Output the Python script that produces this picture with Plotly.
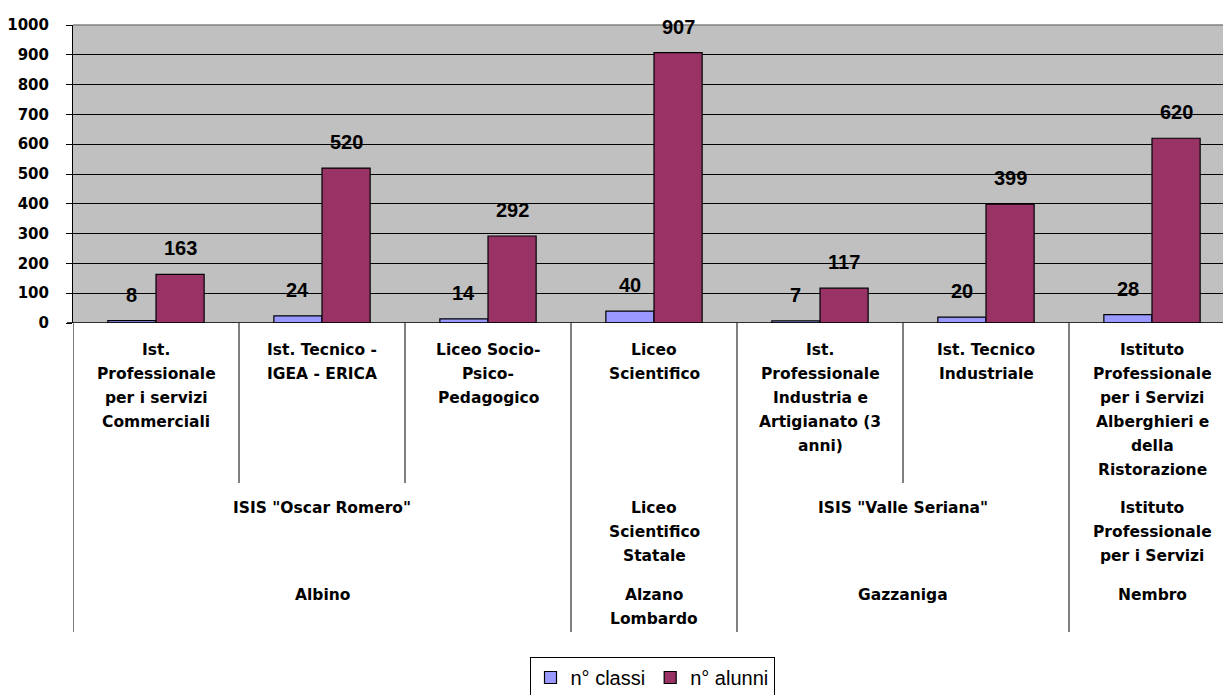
import plotly.graph_objects as go

# ---------------- data ----------------
schools = ["Ist. Professionale per i servizi Commerciali",
           "Ist. Tecnico - IGEA - ERICA",
           "Liceo Socio-Psico-Pedagogico",
           "Liceo Scientifico",
           "Ist. Professionale Industria e Artigianato (3 anni)",
           "Ist. Tecnico Industriale",
           "Istituto Professionale per i Servizi Alberghieri e della Ristorazione"]
school_lines = [["Ist.", "Professionale", "per i servizi", "Commerciali"],
                ["Ist. Tecnico -", "IGEA - ERICA"],
                ["Liceo Socio-", "Psico-", "Pedagogico"],
                ["Liceo", "Scientifico"],
                ["Ist.", "Professionale", "Industria e", "Artigianato (3", "anni)"],
                ["Ist. Tecnico", "Industriale"],
                ["Istituto", "Professionale", "per i Servizi", "Alberghieri e", "della", "Ristorazione"]]
institutes = [["ISIS \"Oscar Romero\""], ["Liceo", "Scientifico", "Statale"],
              ["ISIS \"Valle Seriana\""], ["Istituto", "Professionale", "per i Servizi"]]
institute_span = [(0, 2), (3, 3), (4, 5), (6, 6)]
towns = [["Albino"], ["Alzano", "Lombardo"], ["Gazzaniga"], ["Nembro"]]
town_span = [(0, 2), (3, 3), (4, 5), (6, 6)]

classi = [8, 24, 14, 40, 7, 20, 28]
alunni = [163, 520, 292, 907, 117, 399, 620]
series_names = ["n° classi", "n° alunni"]
yticks = [0, 100, 200, 300, 400, 500, 600, 700, 800, 900, 1000]

# ---------------- layout constants ----------------
W, H = 1223, 695
ML, MT, MB = 73, 25, 372
plot_h = H - MT - MB            # 298
cat_px = 166
x_span = (W - ML) / cat_px
BARGAP = 0.42
bar_w = (1 - BARGAP) / 2

x = list(range(len(schools)))
fig = go.Figure()
fig.add_trace(go.Bar(x=x, y=classi, name=series_names[0],
                     marker=dict(color="#9999FF", line=dict(color="#000000", width=1.2))))
fig.add_trace(go.Bar(x=x, y=alunni, name=series_names[1],
                     marker=dict(color="#993366", line=dict(color="#000000", width=1.2))))

ann = []
label_font = dict(family="Liberation Sans, Arial", size=20, color="#000000", weight="bold")
for i in x:
    for vals, off in ((classi, -bar_w / 2), (alunni, bar_w / 2)):
        ann.append(dict(x=i + off, y=vals[i], xref="x", yref="y", text=str(vals[i]),
                        showarrow=False, yanchor="middle", yshift=26, font=label_font))

cat_font = dict(family="DejaVu Sans", size=15.5, color="#000000", weight="bold")
LINE = 24

def add_lines(xc, lines, top_px):
    for k, t in enumerate(lines):
        ypix = top_px + k * LINE
        ann.append(dict(x=xc, y=0, xref="x", yref="paper", text=t, showarrow=False,
                        yanchor="middle", yshift=-(ypix - (MT + plot_h)), font=cat_font))

for i, lines in enumerate(school_lines):
    add_lines(i, lines, 350)
for (a, b), lines in zip(institute_span, institutes):
    add_lines((a + b) / 2, lines, 508)
for (a, b), lines in zip(town_span, towns):
    add_lines((a + b) / 2, lines, 595)

# separators
short_y = -(483 - (MT + plot_h)) / plot_h
long_y = -(632 - (MT + plot_h)) / plot_h
shapes = []
group_bounds = {-0.5}
for a, b in town_span:
    group_bounds.add(b + 0.5)
for i in range(len(schools)):
    xb = i - 0.5
    y1 = long_y if xb in group_bounds else short_y
    shapes.append(dict(type="line", xref="x", yref="paper", x0=xb, x1=xb, y0=0, y1=y1,
                       line=dict(color="#000000", width=1)))
# top border of plot area
shapes.append(dict(type="line", xref="paper", yref="paper", x0=0, x1=1, y0=1, y1=1,
                   line=dict(color="#808080", width=1.5)))
shapes.append(dict(type="line", xref="paper", yref="y", x0=-6 / (W - ML), x1=1, y0=0, y1=0,
                   line=dict(color="#000000", width=1.5)))

fig.update_layout(
    width=W, height=H,
    margin=dict(l=ML, r=0, t=MT, b=MB, autoexpand=False),
    paper_bgcolor="#FFFFFF", plot_bgcolor="#C0C0C0",
    barmode="group", bargap=BARGAP, bargroupgap=0,
    showlegend=True,
    legend=dict(orientation="h", x=(652 - ML) / (W - ML), xanchor="center",
                y=-(657 - (MT + plot_h)) / plot_h, yanchor="top",
                bordercolor="#000000", borderwidth=1, bgcolor="#FFFFFF",
                font=dict(family="Liberation Sans, Arial", size=20, color="#000000"),
                itemwidth=30, tracegroupgap=0),
    annotations=ann, shapes=shapes,
    xaxis=dict(range=[-0.5, -0.5 + x_span], showticklabels=False, showgrid=False,
               zeroline=False, showline=False, ticks=""),
    yaxis=dict(range=[0, 1000], tickvals=yticks, showgrid=True, gridcolor="#000000",
               gridwidth=1, zeroline=False, showline=True, linecolor="#000000", linewidth=1,
               ticks="outside", ticklen=6, tickcolor="#000000", ticklabelstandoff=14,
               tickfont=dict(family="DejaVu Sans", size=15, color="#000000", weight="bold")),
)

fig.write_html("out.html", config={"displayModeBar": False},
               post_script="document.body.style.margin='0';document.body.style.overflow='hidden';")
